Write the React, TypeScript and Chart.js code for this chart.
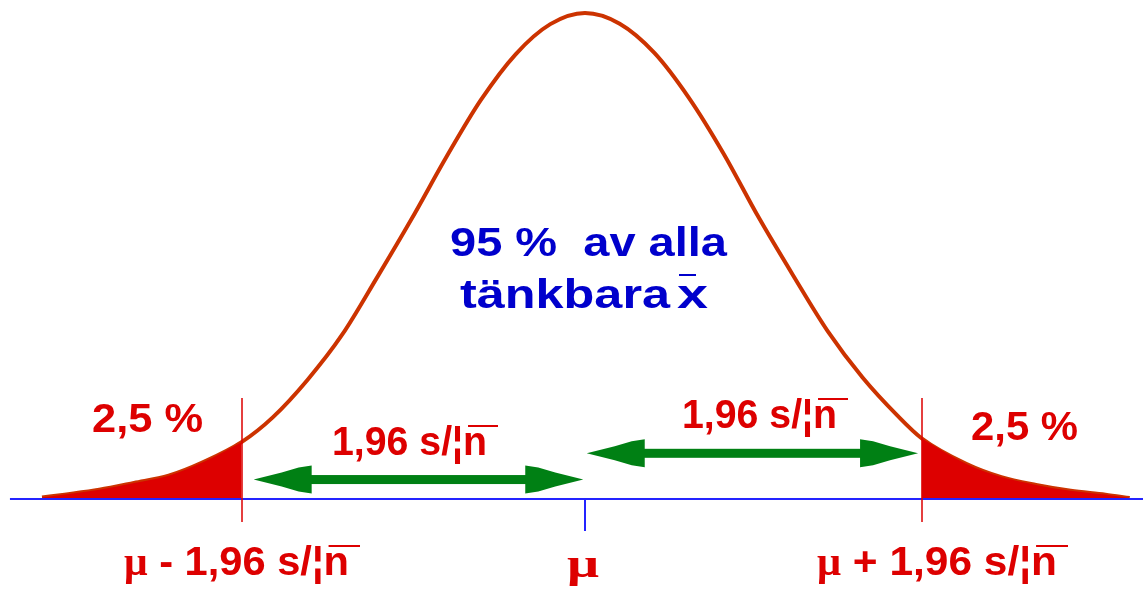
import React, { useEffect, useRef } from "react";
import { Chart, registerables } from "chart.js";

Chart.register(...registerables);

// Curve: z = distance from μ in units of s/√n, h = height relative to the peak
const curveZ = [
  -3.13, -3.0, -2.8, -2.6, -2.4, -2.2, -1.98, -1.8, -1.6, -1.4, -1.2, -1.0, -0.8, -0.6, -0.4,
  -0.2, 0, 0.2, 0.4, 0.6, 0.8, 1.0, 1.2, 1.4, 1.6, 1.8, 1.94, 2.2, 2.4, 2.6, 2.8, 3.0, 3.14,
];
const curveH = [
  0.003, 0.009, 0.019, 0.033, 0.048, 0.076, 0.117, 0.168, 0.245, 0.338, 0.455, 0.576, 0.703,
  0.821, 0.915, 0.977, 1.0, 0.978, 0.918, 0.825, 0.71, 0.58, 0.46, 0.345, 0.25, 0.172, 0.125,
  0.072, 0.045, 0.029, 0.017, 0.009, 0.002,
];

// Cut-off points (μ ∓ 1,96 s/√n) as placed in the picture
const cutLow = -1.98;
const cutHigh = 1.94;

// Double arrows: start, end, height
const arrowFrom = [-1.91, 0.01];
const arrowTo = [-0.01, 1.92];
const arrowH = [0.04, 0.094];

// Texts
const tailLabel = "2,5 %";
const centerLine1 = "95 %  av alla";
const centerLine2 = "tänkbara";
const centerXbar = "x";
const seText = "1,96 s/¦";
const seN = "n";
const muSym = "μ";
const lowerText = " - 1,96 s/¦";
const upperText = " + 1,96 s/¦";

// Axis extents
const axisFrom = -3.315;
const X_MIN = -3.3723;
const X_MAX = 3.2167;
const Y_MIN = -0.1996;
const Y_MAX = 1.0267;

const RED = "#dd0000";
const CURVE = "#cc3300";
const BLUE_TEXT = "#0000cc";
const BLUE_AXIS = "#2424ff";
const GREEN = "rgb(0,128,20)";
const SANS = "bold 40px 'Liberation Sans', Arial, sans-serif";
const SERIF = "bold 40px 'Liberation Serif', 'Times New Roman', serif";

type Run = { text: string; font: string };

function drawRuns(ctx: CanvasRenderingContext2D, runs: Run[], x: number, base: number, width: number) {
  let total = 0;
  const ws = runs.map((r) => {
    ctx.font = r.font;
    const w = ctx.measureText(r.text).width;
    total += w;
    return w;
  });
  const s = width / total;
  ctx.save();
  ctx.translate(x, base);
  ctx.scale(s, 1);
  let cx = 0;
  const pos: [number, number][] = [];
  runs.forEach((r, i) => {
    ctx.font = r.font;
    ctx.fillText(r.text, cx, 0);
    pos.push([x + cx * s, x + (cx + ws[i]) * s]);
    cx += ws[i];
  });
  ctx.restore();
  return pos;
}

function hline(ctx: CanvasRenderingContext2D, x1: number, x2: number, y: number, w: number) {
  ctx.fillRect(x1, y - w / 2, x2 - x1, w);
}

function drawArrow(ctx: CanvasRenderingContext2D, xa: number, xb: number, y: number) {
  const shaft = 9;
  const headLen = 58;
  ctx.fillRect(xa + headLen - 2, y - shaft / 2, xb - xa - 2 * headLen + 4, shaft);
  const head = (tip: number, dir: number) => {
    ctx.beginPath();
    ctx.moveTo(tip, y);
    ctx.lineTo(tip - dir * 28, y - 7);
    ctx.lineTo(tip - dir * 45, y - 12);
    ctx.lineTo(tip - dir * headLen, y - 14);
    ctx.lineTo(tip - dir * headLen, y + 14);
    ctx.lineTo(tip - dir * 45, y + 12);
    ctx.lineTo(tip - dir * 28, y + 7);
    ctx.closePath();
    ctx.fill();
  };
  head(xa, -1);
  head(xb, 1);
}

const overlay = {
  id: "overlay",
  afterDatasetsDraw(chart: any) {
    const ctx: CanvasRenderingContext2D = chart.ctx;
    const xs = chart.scales.x;
    const ys = chart.scales.y;
    const px = (v: number) => xs.getPixelForValue(v);
    const py = (v: number) => ys.getPixelForValue(v);
    const y0 = py(0);
    ctx.save();

    // axis line and μ tick
    ctx.fillStyle = BLUE_AXIS;
    hline(ctx, px(axisFrom), chart.width, y0, 2);
    ctx.fillRect(Math.round(px(0)) - 1, y0, 2, 32);

    // cut-off lines
    ctx.fillStyle = RED;
    for (const c of [cutLow, cutHigh]) {
      ctx.fillRect(Math.round(px(c)) - 0.75, y0 - 101, 1.5, 124);
    }

    // arrows
    ctx.fillStyle = GREEN;
    arrowFrom.forEach((f, i) => drawArrow(ctx, px(f), px(arrowTo[i]), py(arrowH[i])));

    ctx.textBaseline = "alphabetic";
    ctx.textAlign = "left";

    // center text
    ctx.fillStyle = BLUE_TEXT;
    drawRuns(ctx, [{ text: centerLine1, font: SANS }], 450, 256, 277);
    drawRuns(ctx, [{ text: centerLine2, font: SANS }], 460, 308, 210);
    drawRuns(ctx, [{ text: centerXbar, font: SANS }], 677, 308, 31);
    hline(ctx, 679, 696, 275, 2);

    // tail labels
    ctx.fillStyle = RED;
    drawRuns(ctx, [{ text: tailLabel, font: SANS }], 92, 432, 111);
    drawRuns(ctx, [{ text: tailLabel, font: SANS }], 971, 440, 107);

    // 1,96 s/√n labels
    const se = (x: number, base: number, w: number, runs: Run[]) => {
      const pos = drawRuns(ctx, runs, x, base, w);
      const n = pos[pos.length - 1];
      hline(ctx, n[0] + 5, n[1] + 11, base - 29, 2);
    };
    se(332, 455, 155, [
      { text: seText, font: SANS },
      { text: seN, font: SANS },
    ]);
    se(682, 428, 155, [
      { text: seText, font: SANS },
      { text: seN, font: SANS },
    ]);
    se(124, 575, 225, [
      { text: muSym, font: SERIF },
      { text: lowerText, font: SANS },
      { text: seN, font: SANS },
    ]);
    se(817, 575, 240, [
      { text: muSym, font: SERIF },
      { text: upperText, font: SANS },
      { text: seN, font: SANS },
    ]);
    drawRuns(ctx, [{ text: muSym, font: SERIF }], 567, 577, 32);

    ctx.restore();
  },
};

export default function App() {
  const ref = useRef<HTMLCanvasElement | null>(null);
  useEffect(() => {
    if (!ref.current) return;
    const pts = curveZ.map((z, i) => ({ x: z, y: curveH[i] }));
    const leftTail = pts.filter((p) => p.x <= cutLow + 1e-9);
    const rightTail = pts.filter((p) => p.x >= cutHigh - 1e-9);
    const tail = (data: any[]) => ({
      data,
      fill: "origin",
      backgroundColor: RED,
      borderWidth: 0,
      pointRadius: 0,
      cubicInterpolationMode: "monotone",
    });
    const chart = new Chart(ref.current, {
      type: "line",
      data: {
        datasets: [
          tail(leftTail) as any,
          tail(rightTail) as any,
          {
            data: pts,
            fill: false,
            borderColor: CURVE,
            borderWidth: 4,
            pointRadius: 0,
            cubicInterpolationMode: "monotone",
          } as any,
        ],
      },
      options: {
        animation: false,
        responsive: false,
        events: [],
        layout: { padding: 0 },
        plugins: { legend: { display: false }, tooltip: { enabled: false } },
        scales: {
          x: { type: "linear", display: false, min: X_MIN, max: X_MAX },
          y: { type: "linear", display: false, min: Y_MIN, max: Y_MAX },
        },
      },
      plugins: [overlay],
    });
    return () => chart.destroy();
  }, []);
  return (
    <div style={{ position: "fixed", left: 0, top: 0, width: 1143, height: 596, background: "#fff" }}>
      <canvas ref={ref} width={1143} height={596} style={{ display: "block" }} />
    </div>
  );
}
